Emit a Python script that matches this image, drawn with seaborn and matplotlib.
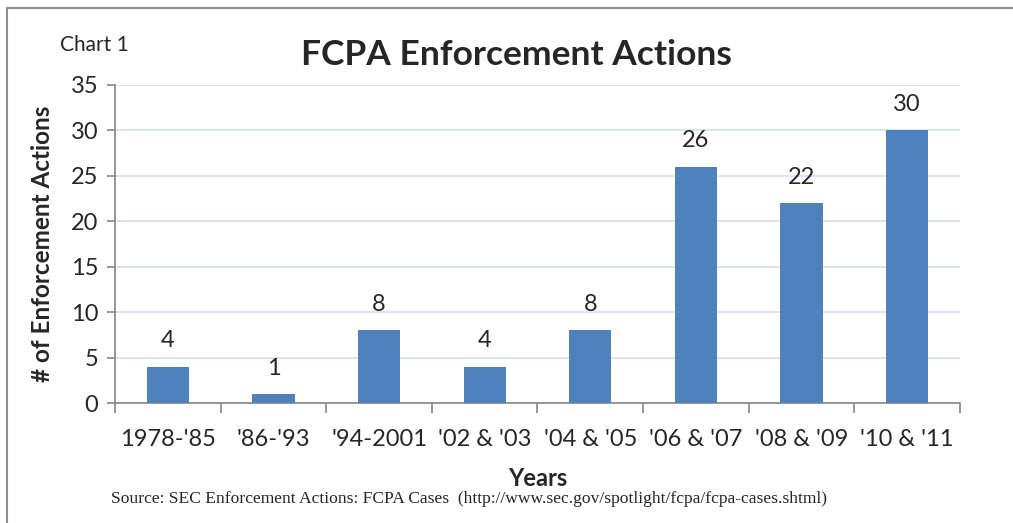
import matplotlib
matplotlib.use("Agg")
import matplotlib.pyplot as plt
import seaborn as sns
import pandas as pd
from matplotlib.lines import Line2D

periods = ["1978-'85", "'86-'93", "'94-2001", "'02 & '03", "'04 & '05",
           "'06 & '07", "'08 & '09", "'10 & '11"]
actions = [4, 1, 8, 4, 8, 26, 22, 30]
y_ticks = [0, 5, 10, 15, 20, 25, 30, 35]

df = pd.DataFrame({"Years": periods, "Actions": actions})

sns.set_theme(style="white")
plt.rcParams["font.family"] = ["Lato", "DejaVu Sans"]

fig = plt.figure(figsize=(10.13, 5.23), dpi=100)
ax = fig.add_axes([0.1135, 0.2294, 0.8342, 0.6081])

sns.barplot(data=df, x="Years", y="Actions", color="#4F81BD", width=0.4,
            saturation=1, linewidth=0, ax=ax, zorder=3)

ax.set_ylim(0, 35)
ax.set_xlim(-0.5, len(periods) - 0.5)
ax.set_yticks(y_ticks)
ax.yaxis.grid(True, color="#D6DFEF", linewidth=1.2, zorder=0)
ax.set_axisbelow(True)

axis_gray = "#868686"
for side in ["top", "right"]:
    ax.spines[side].set_visible(False)
for side in ["left", "bottom"]:
    ax.spines[side].set_color(axis_gray)
    ax.spines[side].set_linewidth(1.2)

ax.tick_params(axis="y", which="major", length=6, color=axis_gray, width=1.2,
               labelsize=17, pad=6, left=True)
ax.tick_params(axis="x", which="major", length=0, labelsize=17, pad=19)
ax.set_xticks([i - 0.5 for i in range(len(periods) + 1)], minor=True)
ax.tick_params(axis="x", which="minor", length=7, color=axis_gray, width=1.2,
               bottom=True)

for i, v in enumerate(actions):
    ax.annotate(str(v), (i, v), xytext=(0, 11), textcoords="offset points",
                ha="center", va="bottom", fontsize=17)

ax.set_xlabel("Years", fontsize=17, fontweight="bold", labelpad=12)
ax.set_ylabel("# of Enforcement Actions", fontsize=17.5, fontweight="bold",
              labelpad=12)

fig.text(0.51, 0.895, "FCPA Enforcement Actions", ha="center", va="center",
         fontsize=25.5, fontweight="bold")
fig.text(0.059, 0.914, "Chart 1", ha="left", va="center", fontsize=15)
fig.text(0.463, 0.046,
         "Source: SEC Enforcement Actions: FCPA Cases  (http://www.sec.gov/spotlight/fcpa/fcpa-cases.shtml)",
         ha="center", va="center", fontsize=12.6, family="Liberation Serif")

fig.add_artist(Line2D([0.007, 1.0], [0.985, 0.985], color="#8C8C8C",
                      linewidth=1.5, transform=fig.transFigure))
fig.add_artist(Line2D([0.007, 0.007], [0.0, 0.985], color="#8C8C8C",
                      linewidth=1.5, transform=fig.transFigure))

fig.savefig("out.png", dpi=100)
